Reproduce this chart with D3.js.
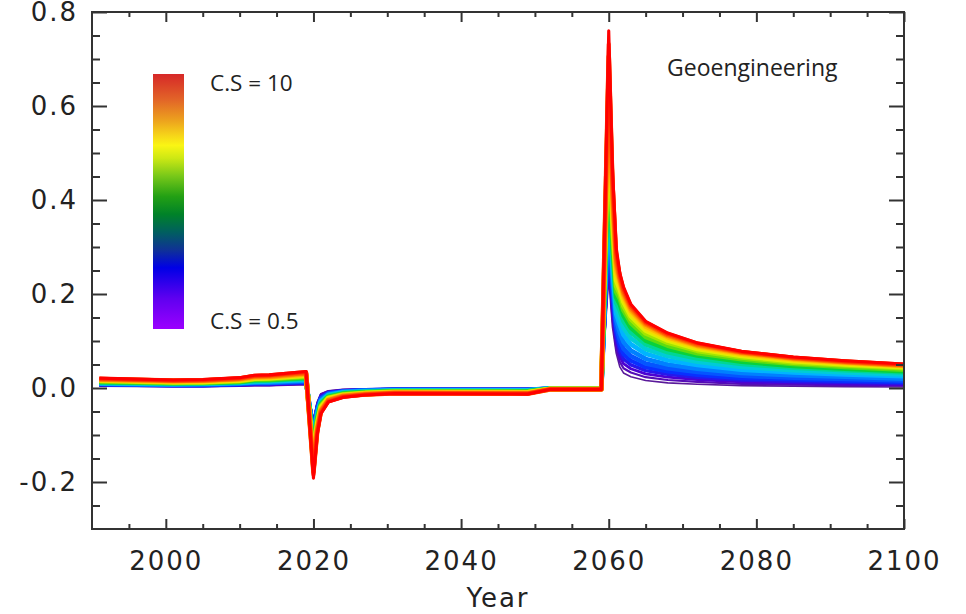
<!DOCTYPE html>
<html>
<head>
<meta charset="utf-8">
<script src="https://cdn.jsdelivr.net/npm/d3@7"></script>
<style>
body { margin: 0; background: #fff; }
svg { display: block; }
</style>
</head>
<body>
<svg id="chart" width="966" height="614"></svg>
<script>
// climate sensitivity of each run (colour key)
var sensitivities = [0.5, 1, 1.5, 2, 2.5, 3, 3.5, 4, 4.5, 5, 5.5, 6, 6.5, 7, 7.5, 8, 8.5, 9, 9.5, 10];

var years = [1991, 2001, 2005, 2010, 2012, 2014, 2019, 2020, 2020.5, 2021, 2022, 2024, 2027, 2031, 2049, 2052, 2059,
	2060, 2060.5, 2061, 2061.5, 2062, 2063, 2065, 2068, 2072, 2078, 2085, 2092, 2100];

// one row per year, one column per sensitivity (low -> high)
var anomalyByYear = [
	[.004,.005,.006,.007,.008,.009,.009,.010,.011,.012,.013,.014,.015,.016,.017,.017,.018,.019,.020,.021],
	[.003,.004,.005,.005,.006,.007,.007,.008,.009,.010,.010,.011,.012,.013,.013,.014,.015,.016,.016,.017],
	[.003,.004,.005,.005,.006,.007,.008,.009,.009,.010,.011,.012,.012,.013,.014,.015,.016,.016,.017,.018],
	[.004,.005,.006,.007,.008,.009,.010,.011,.012,.013,.013,.014,.015,.016,.017,.018,.019,.020,.021,.022],
	[.005,.006,.007,.009,.010,.011,.012,.013,.014,.015,.017,.018,.019,.020,.021,.022,.024,.025,.026,.027],
	[.005,.006,.007,.009,.010,.011,.012,.014,.015,.016,.017,.018,.020,.021,.022,.023,.024,.026,.027,.028],
	[.007,.009,.010,.011,.013,.014,.016,.017,.019,.020,.022,.023,.025,.026,.028,.029,.031,.032,.034,.035],
	[-.066,-.073,-.079,-.086,-.093,-.099,-.106,-.112,-.119,-.126,-.132,-.139,-.146,-.152,-.159,-.166,-.172,-.179,-.185,-.192],
	[-.030,-.034,-.037,-.041,-.045,-.048,-.052,-.056,-.059,-.063,-.067,-.071,-.074,-.078,-.082,-.085,-.089,-.093,-.096,-.100],
	[-.012,-.014,-.016,-.019,-.021,-.023,-.026,-.028,-.030,-.032,-.035,-.037,-.039,-.041,-.044,-.046,-.048,-.050,-.053,-.055],
	[-.006,-.007,-.009,-.010,-.011,-.012,-.014,-.015,-.016,-.017,-.019,-.020,-.021,-.022,-.024,-.025,-.026,-.027,-.029,-.030],
	[-.003,-.004,-.005,-.006,-.007,-.008,-.008,-.009,-.010,-.011,-.012,-.013,-.014,-.015,-.016,-.016,-.017,-.018,-.019,-.020],
	[-.002,-.003,-.003,-.004,-.005,-.005,-.006,-.007,-.008,-.008,-.009,-.010,-.010,-.011,-.012,-.012,-.013,-.014,-.014,-.015],
	[-.001,-.002,-.002,-.003,-.003,-.004,-.005,-.005,-.006,-.006,-.007,-.007,-.008,-.009,-.009,-.010,-.010,-.011,-.011,-.012],
	[-.001,-.002,-.002,-.003,-.004,-.004,-.005,-.005,-.006,-.007,-.007,-.008,-.009,-.009,-.010,-.011,-.011,-.012,-.012,-.013],
	[.000,.000,.000,-.001,-.001,-.001,-.001,-.001,-.001,-.001,-.002,-.002,-.002,-.002,-.002,-.002,-.003,-.003,-.003,-.003],
	[.000,.000,.000,-.001,-.001,-.001,-.001,-.001,-.001,-.001,-.002,-.002,-.002,-.002,-.002,-.002,-.003,-.003,-.003,-.003],
	[.235,.263,.290,.318,.346,.373,.401,.428,.456,.484,.511,.539,.567,.594,.622,.650,.677,.705,.732,.760],
	[.130,.148,.166,.184,.202,.220,.237,.255,.273,.291,.309,.327,.345,.363,.381,.398,.416,.434,.452,.470],
	[.075,.087,.099,.111,.122,.134,.146,.158,.170,.182,.193,.205,.217,.229,.241,.253,.265,.276,.288,.300],
	[.045,.056,.067,.078,.090,.103,.118,.134,.150,.165,.178,.190,.200,.209,.217,.224,.230,.235,.240,.245],
	[.032,.042,.052,.062,.072,.084,.098,.113,.128,.142,.154,.165,.174,.183,.190,.196,.201,.206,.210,.215],
	[.024,.033,.041,.049,.058,.068,.080,.093,.106,.118,.128,.138,.146,.153,.159,.164,.168,.172,.175,.178],
	[.016,.023,.030,.037,.044,.052,.062,.073,.083,.093,.101,.109,.116,.122,.127,.131,.135,.138,.140,.142],
	[.011,.017,.023,.029,.035,.042,.050,.059,.068,.076,.083,.090,.096,.101,.105,.108,.111,.113,.115,.117],
	[.008,.013,.018,.023,.028,.034,.041,.049,.056,.063,.069,.074,.079,.083,.086,.089,.091,.093,.095,.096],
	[.005,.009,.013,.017,.021,.026,.032,.039,.045,.051,.056,.061,.065,.068,.071,.073,.075,.076,.077,.078],
	[.004,.007,.011,.014,.018,.022,.027,.033,.038,.043,.047,.051,.054,.057,.059,.061,.063,.064,.065,.066],
	[.003,.006,.009,.012,.015,.019,.024,.029,.033,.038,.041,.045,.048,.050,.052,.054,.055,.056,.057,.058],
	[.002,.005,.007,.010,.013,.016,.020,.025,.029,.033,.036,.039,.042,.044,.046,.047,.048,.049,.050,.051]
];

var xTicks = [2000, 2020, 2040, 2060, 2080, 2100];
var xMinorTicks = [1995, 2005, 2010, 2015, 2025, 2030, 2035, 2045, 2050, 2055, 2065, 2070, 2075, 2085, 2090, 2095];
var yTicks = [-0.2, 0, 0.2, 0.4, 0.6, 0.8];
var yMinorTicks = [-0.25, -0.15, -0.1, -0.05, 0.05, 0.1, 0.15, 0.25, 0.3, 0.35, 0.45, 0.5, 0.55, 0.65, 0.7, 0.75];

var panelTitle = 'Geoengineering';
var keyLabels = ['C.S = 10', 'C.S = 0.5'];
var xTitle = 'Year';

var frame = {left: 92, top: 12, right: 904, bottom: 529};

var svg = d3.select('#chart');

var x = d3.scaleLinear().domain([1990, 2100]).range([frame.left, frame.right]);
var y = d3.scaleLinear().domain([-0.3, 0.8]).range([frame.bottom, frame.top]);

// line colours, low sensitivity (violet) to high (red)
var lineColor = d3.scaleLinear()
	.domain([0, 0.1, 0.2, 0.3, 0.38, 0.46, 0.52, 0.6, 0.7, 0.8, 0.9, 1])
	.range(['#5a1a9a', '#5000d0', '#0a28ff', '#0070ff', '#00c0ff', '#00d8b0', '#00d040', '#80e000', '#f0f000', '#ffb000', '#ff6000', '#ff0000'])
	.interpolate(d3.interpolateRgb);

// low runs are thin separate strands, upper ones merge into a band
var lineWidth = d3.scaleLinear().domain([0, 0.25, 0.9, 1]).range([1.6, 4.6, 4.6, 3.1]);

var csExtent = d3.extent(sensitivities);
var csFrac = function(cs) { return (cs - csExtent[0])/(csExtent[1] - csExtent[0]); };

var runs = sensitivities.map(function(cs, k) {
	return {
		cs: cs,
		points: years.map(function(yr, i) { return [yr, anomalyByYear[i][k]]; })
	};
});

svg.append('clipPath').attr('id', 'plot-clip')
	.append('rect')
	.attr('x', frame.left).attr('y', frame.top)
	.attr('width', frame.right - frame.left).attr('height', frame.bottom - frame.top);

var line = d3.line()
	.x(function(d) { return x(d[0]); })
	.y(function(d) { return y(d[1]); });

svg.append('g')
	.attr('clip-path', 'url(#plot-clip)')
	.selectAll('path').data(runs)
	.enter().append('path')
		.attr('d', function(r) { return line(r.points); })
		.attr('fill', 'none')
		.attr('stroke', function(r) { return lineColor(csFrac(r.cs)); })
		.attr('stroke-width', function(r) { return lineWidth(csFrac(r.cs)); })
		.attr('stroke-linejoin', 'round');

// colour bar
var grad = svg.append('defs').append('linearGradient')
	.attr('id', 'cs-grad')
	.attr('x1', 0).attr('y1', 0).attr('x2', 0).attr('y2', 1);

var barStops = [
	[0, 'rgb(214,40,40)'], [0.10, 'rgb(226,100,40)'], [0.18, 'rgb(236,160,30)'], [0.24, 'rgb(246,212,25)'],
	[0.28, 'rgb(250,245,20)'], [0.33, 'rgb(205,232,20)'], [0.40, 'rgb(120,200,25)'], [0.48, 'rgb(35,160,20)'],
	[0.55, 'rgb(0,130,40)'], [0.62, 'rgb(0,95,95)'], [0.69, 'rgb(15,50,150)'], [0.76, 'rgb(0,0,230)'],
	[0.88, 'rgb(95,0,240)'], [1, 'rgb(155,0,255)']
];
grad.selectAll('stop').data(barStops)
	.enter().append('stop')
		.attr('offset', function(d) { return d[0]; })
		.attr('stop-color', function(d) { return d[1]; });

svg.append('rect')
	.attr('x', 153).attr('y', 74)
	.attr('width', 31).attr('height', 255)
	.attr('fill', 'url(#cs-grad)');

svg.selectAll('.key-label').data(keyLabels)
	.enter().append('text')
		.attr('class', 'key-label')
		.attr('x', 210)
		.attr('y', function(d, i) { return i == 0 ? 91 : 329; })
		.attr('font-family', 'Open Sans, Noto Sans, sans-serif')
		.attr('font-size', 22.5)
		.attr('fill', '#222')
		.text(function(d) { return d; });

svg.append('text')
	.attr('x', 667).attr('y', 76)
	.attr('font-family', 'Open Sans, Noto Sans, sans-serif')
	.attr('font-size', 23)
	.attr('fill', '#222')
	.text(panelTitle);

// axes, ticks pointing inward
var tickFont = 'DejaVu Sans, sans-serif';
var yFormat = function(d) { return d.toFixed(1); };

function styleAxis(g, width) {
	g.select('.domain').remove();
	g.selectAll('line').attr('stroke', '#333').attr('stroke-width', width);
	g.selectAll('text').attr('font-family', tickFont).attr('font-size', 26)
		.attr('letter-spacing', 2).attr('fill', '#222');
}

svg.append('g').attr('transform', 'translate(0,' + frame.bottom + ')')
	.call(d3.axisBottom(x).tickValues(xTicks).tickSize(-10).tickPadding(23).tickFormat(d3.format('d')))
	.call(styleAxis, 2);
svg.append('g').attr('transform', 'translate(0,' + frame.bottom + ')')
	.call(d3.axisBottom(x).tickValues(xMinorTicks).tickSize(-5).tickFormat(''))
	.call(styleAxis, 2);
svg.append('g').attr('transform', 'translate(0,' + frame.top + ')')
	.call(d3.axisTop(x).tickValues(xTicks).tickSize(-10).tickFormat(''))
	.call(styleAxis, 2);
svg.append('g').attr('transform', 'translate(0,' + frame.top + ')')
	.call(d3.axisTop(x).tickValues(xMinorTicks).tickSize(-5).tickFormat(''))
	.call(styleAxis, 2);

svg.append('g').attr('transform', 'translate(' + frame.left + ',0)')
	.call(d3.axisLeft(y).tickValues(yTicks).tickSize(-15).tickPadding(14).tickFormat(yFormat))
	.call(styleAxis, 2);
svg.append('g').attr('transform', 'translate(' + frame.left + ',0)')
	.call(d3.axisLeft(y).tickValues(yMinorTicks).tickSize(-8).tickFormat(''))
	.call(styleAxis, 2);
svg.append('g').attr('transform', 'translate(' + frame.right + ',0)')
	.call(d3.axisRight(y).tickValues(yTicks).tickSize(-15).tickFormat(''))
	.call(styleAxis, 2);
svg.append('g').attr('transform', 'translate(' + frame.right + ',0)')
	.call(d3.axisRight(y).tickValues(yMinorTicks).tickSize(-8).tickFormat(''))
	.call(styleAxis, 2);

svg.append('rect')
	.attr('x', frame.left).attr('y', frame.top)
	.attr('width', frame.right - frame.left).attr('height', frame.bottom - frame.top)
	.attr('fill', 'none')
	.attr('stroke', '#333')
	.attr('stroke-width', 2);

svg.append('text')
	.attr('x', (frame.left + frame.right)/2)
	.attr('y', 607)
	.attr('text-anchor', 'middle')
	.attr('font-family', tickFont)
	.attr('font-size', 26)
	.attr('letter-spacing', 2)
	.attr('fill', '#222')
	.text(xTitle);
</script>
</body>
</html>
